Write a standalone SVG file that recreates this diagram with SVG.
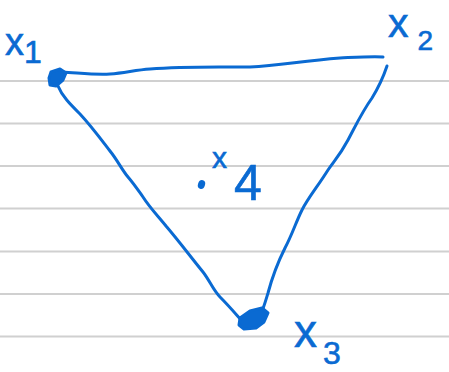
<svg xmlns="http://www.w3.org/2000/svg" width="449" height="372" viewBox="0 0 449 372">
<style>
.rule{stroke:#d0d0d0;stroke-width:2}
.ink{fill:none;stroke:#0a6ad2;stroke-width:3;stroke-linecap:round;stroke-linejoin:round}
.blob{fill:#0a6ad2;stroke:#0a6ad2;stroke-width:3;stroke-linejoin:round}
.lbl{fill:#0a6ad2;stroke:#0a6ad2;stroke-width:0.6;font-family:"Liberation Sans",Arial,sans-serif}
</style>
<rect width="449" height="372" fill="#ffffff"/>
<g id="rules">
<line class="rule" x1="0" y1="81" x2="449" y2="81"/>
<line class="rule" x1="0" y1="123.5" x2="449" y2="123.5"/>
<line class="rule" x1="0" y1="166" x2="449" y2="166"/>
<line class="rule" x1="0" y1="208.5" x2="449" y2="208.5"/>
<line class="rule" x1="0" y1="251.5" x2="449" y2="251.5"/>
<line class="rule" x1="0" y1="294" x2="449" y2="294"/>
<line class="rule" x1="0" y1="336.5" x2="449" y2="336.5"/>
</g>
<g id="connectors">
<path class="ink" d="M62,72 C80,73 95,75 110,74 C125,73 135,70 150,69 C185,66 220,67 250,67 C280,66 300,61 340,58 C360,57 375,56 383,57"/>
<path class="ink" d="M387,66 C384,75 380,85 372,98 C362,112 356,125 348,140 C340,155 335,160 328,170 C318,186 308,198 302,210 C296,222 292,235 285,248 C278,262 272,278 268,293 C265,303 263,310 260,316"/>
<path class="ink" d="M58,86 C62,96 70,104 80,114 C92,127 100,138 110,151 C118,161 122,170 128,177 C134,184 138,190 143,197 C150,208 158,216 166,226 C178,240 190,256 203,272 C210,281 213,290 220,297 C228,305 234,312 243,322"/>
</g>
<g id="x1">
<path class="blob" d="M51,72 L60,69 L66,73 L63,80 L56,86 L50,85 L49,78 Z"/>
<text class="lbl" x="5" y="55" font-size="38">x<tspan dx="0" dy="8" font-size="32">1</tspan></text>
</g>
<g id="x2">
<text class="lbl" x="388" y="37" font-size="41">x<tspan dx="9" dy="13" font-size="28">2</tspan></text>
</g>
<g id="x3">
<path class="blob" d="M240,318 L250,311 L262,308 L268,313 L264,322 L256,328 L244,329 L239,325 Z"/>
<text class="lbl" x="294" y="347" font-size="46">x<tspan dx="6" dy="17" font-size="32">3</tspan></text>
</g>
<g id="x4">
<ellipse class="blob" cx="201.5" cy="184.5" rx="2" ry="3" transform="rotate(20 201.5 184.5)"/>
<text class="lbl" x="212" y="168" font-size="30">x<tspan dx="7" dy="32" font-size="50">4</tspan></text>
</g>
</svg>
